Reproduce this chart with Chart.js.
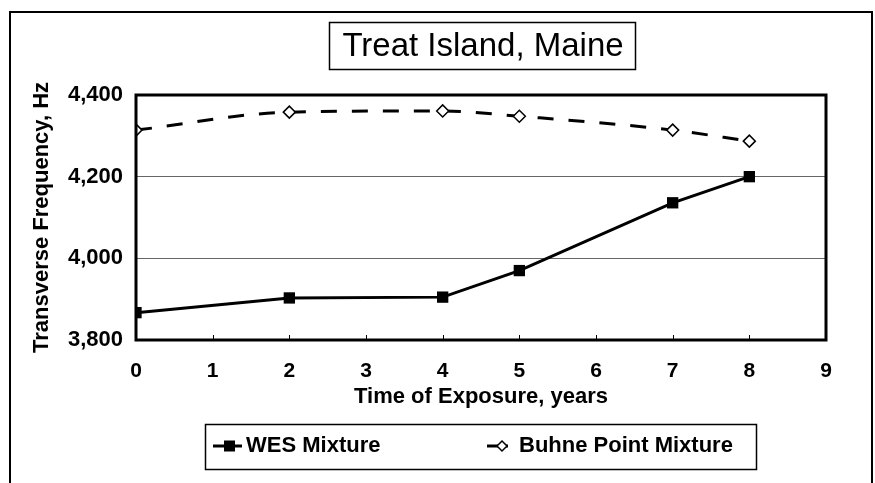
<!DOCTYPE html>
<html>
<head>
<meta charset="utf-8">
<script src="https://cdn.jsdelivr.net/npm/chart.js@4"></script>
<style>
  html, body { margin: 0; padding: 0; background: #fff; }
  #wrap { position: relative; width: 875px; height: 483px; }
</style>
</head>
<body>
<div id="wrap"><canvas id="chart" width="875" height="483"></canvas></div>
<script>
const years = [0, 2, 4, 5, 7, 8];
const wesValues = [3867, 3903, 3905, 3970, 4136, 4200];
const buhneValues = [4314, 4358, 4361, 4348, 4314, 4287];
const xTicks = [0, 1, 2, 3, 4, 5, 6, 7, 8, 9];
const yTicks = [3800, 4000, 4200, 4400];
const chartTitle = 'Treat Island, Maine';
const seriesNames = ['WES Mixture', 'Buhne Point Mixture'];

const FONT = "'Liberation Sans', Arial, sans-serif";

function toPoints(values) {
    return years.map((x, i) => ({ x: x, y: values[i] }));
}

// frame, title box, plot border, inner ticks and legend
const decorations = {
    id: 'decorations',
    beforeDraw(chart) {
        const ctx = chart.ctx;
        ctx.save();
        ctx.fillStyle = '#fff';
        ctx.fillRect(0, 0, chart.width, chart.height);
        ctx.strokeStyle = '#000';
        ctx.lineWidth = 2;
        ctx.strokeRect(10, 12, 862, 500);
        ctx.restore();
    },
    afterDraw(chart) {
        const ctx = chart.ctx;
        const area = chart.chartArea;
        const xs = chart.scales.x;
        ctx.save();

        // small tick marks inside bottom of plot
        ctx.strokeStyle = '#000';
        ctx.lineWidth = 1;
        xTicks.forEach(v => {
            const px = Math.round(xs.getPixelForValue(v)) + 0.5;
            ctx.beginPath();
            ctx.moveTo(px, area.bottom);
            ctx.lineTo(px, area.bottom - 5);
            ctx.stroke();
        });

        // plot border
        ctx.lineWidth = 3;
        ctx.strokeRect(area.left, area.top, area.right - area.left, area.bottom - area.top);

        // title box
        ctx.font = '33px ' + FONT;
        ctx.fillStyle = '#000';
        ctx.textAlign = 'center';
        ctx.textBaseline = 'middle';
        ctx.lineWidth = 1.5;
        ctx.strokeRect(329.5, 22.5, 306, 47);
        ctx.fillText(chartTitle, 483, 47);

        // legend box
        ctx.lineWidth = 1.5;
        ctx.strokeRect(205.5, 424.5, 551, 45);
        ctx.font = 'bold 22px ' + FONT;
        ctx.textAlign = 'left';
        const ly = 446;
        // WES sample
        ctx.lineWidth = 3;
        ctx.beginPath();
        ctx.moveTo(213, ly);
        ctx.lineTo(242, ly);
        ctx.stroke();
        ctx.fillRect(224, ly - 5.5, 11, 11);
        ctx.fillText(seriesNames[0], 246, ly);
        // Buhne sample
        ctx.beginPath();
        ctx.moveTo(487, ly);
        ctx.lineTo(508, ly);
        ctx.stroke();
        ctx.lineWidth = 1.5;
        ctx.beginPath();
        ctx.moveTo(502, ly - 5);
        ctx.lineTo(507, ly);
        ctx.lineTo(502, ly + 5);
        ctx.lineTo(497, ly);
        ctx.closePath();
        ctx.fillStyle = '#fff';
        ctx.fill();
        ctx.stroke();
        ctx.fillStyle = '#000';
        ctx.fillText(seriesNames[1], 519, ly);

        ctx.restore();
    }
};

const ctx = document.getElementById('chart').getContext('2d');
new Chart(ctx, {
    type: 'line',
    data: {
        datasets: [{
            label: seriesNames[0],
            data: toPoints(wesValues),
            borderColor: '#000',
            backgroundColor: '#000',
            borderWidth: 3,
            pointStyle: 'rect',
            pointRadius: 8,
            pointBorderWidth: 0,
            tension: 0
        }, {
            label: seriesNames[1],
            data: toPoints(buhneValues),
            borderColor: '#000',
            backgroundColor: '#fff',
            borderWidth: 3,
            borderDash: [16, 15],
            pointStyle: 'rectRot',
            pointRadius: 6,
            pointBorderWidth: 1.5,
            tension: 0.35,
            cubicInterpolationMode: 'monotone'
        }]
    },
    options: {
        responsive: false,
        animation: false,
        layout: {
            padding: { left: 10, right: 49, top: 95, bottom: 73 }
        },
        plugins: {
            legend: { display: false },
            tooltip: { enabled: false },
            title: { display: false }
        },
        scales: {
            x: {
                type: 'linear',
                min: 0,
                max: 9,
                afterBuildTicks: scale => { scale.ticks = xTicks.map(v => ({ value: v })); },
                afterFit: scale => { scale.height = 70; },
                grid: { display: false, drawTicks: false },
                border: { display: false },
                ticks: {
                    color: '#000',
                    padding: 19,
                    font: { family: FONT, size: 21, weight: 'bold' }
                },
                title: {
                    display: true,
                    text: 'Time of Exposure, years',
                    color: '#000',
                    padding: { top: 0, bottom: 0 },
                    font: { family: FONT, size: 22, weight: 'bold' }
                }
            },
            y: {
                min: 3800,
                max: 4400,
                afterBuildTicks: scale => { scale.ticks = yTicks.map(v => ({ value: v })); },
                afterFit: scale => { scale.width = 126; },
                grid: { color: '#666', lineWidth: 1, drawTicks: false },
                border: { display: false },
                ticks: {
                    color: '#000',
                    padding: 13,
                    font: { family: FONT, size: 22, weight: 'bold' },
                    callback: v => v.toLocaleString('en-US')
                },
                title: {
                    display: true,
                    text: 'Transverse Frequency, Hz',
                    color: '#000',
                    padding: { top: 19, bottom: 0 },
                    font: { family: FONT, size: 22, weight: 'bold' }
                }
            }
        }
    },
    plugins: [decorations]
});
</script>
</body>
</html>
